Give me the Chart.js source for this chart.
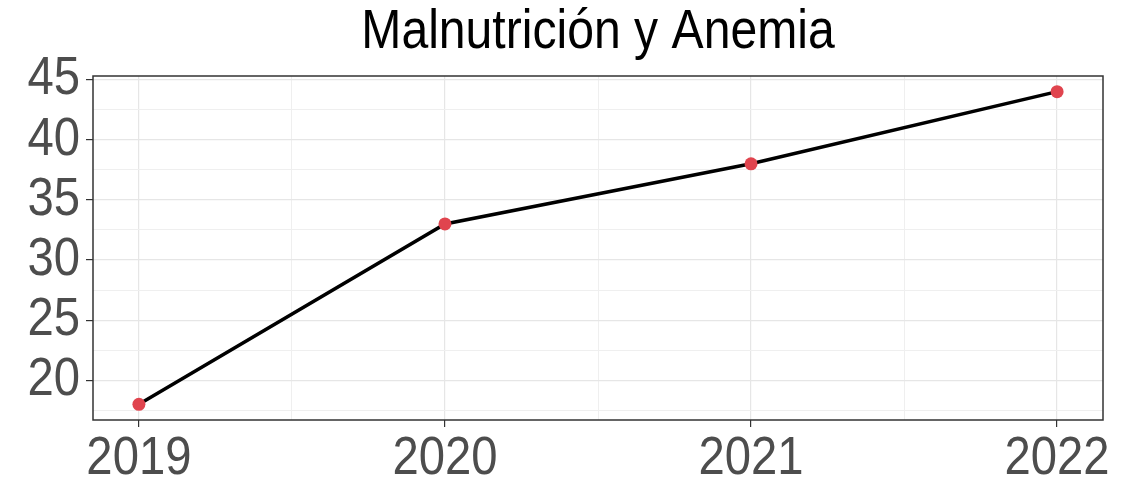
<!DOCTYPE html>
<html>
<head>
<meta charset="utf-8">
<script src="https://cdn.jsdelivr.net/npm/chart.js@4.4.1/dist/chart.umd.min.js"></script>
<style>
  html, body { margin: 0; padding: 0; background: #fff; }
  #wrap { width: 1140px; height: 482px; }
</style>
</head>
<body>
<div id="wrap"><canvas id="chartLine"></canvas></div>
<script>
"use strict";

var years = [2019, 2020, 2021, 2022];
var values = [18, 33, 38, 44];
var xGrid = [2019, 2019.5, 2020, 2020.5, 2021, 2021.5, 2022];
var yGrid = [17.5, 20, 22.5, 25, 27.5, 30, 32.5, 35, 37.5, 40, 42.5, 45];
var yLabels = [20, 25, 30, 35, 40, 45];

var font = "'Liberation Sans', Arial, sans-serif";

function isMajor(v, list) {
  return list.indexOf(v) !== -1;
}

// the reference text is a bit narrow, squeeze glyphs horizontally
var narrowText = {
  id: "narrowText",
  beforeDraw: function (chart) {
    var ctx = chart.ctx;
    var orig = ctx.fillText;
    chart._origFillText = orig;
    ctx.fillText = function (text, x, y, maxWidth) {
      this.save();
      this.translate(x, y);
      this.scale(0.875, 1);
      orig.call(this, text, 0, 0, maxWidth);
      this.restore();
    };
  },
  afterDraw: function (chart) {
    chart.ctx.fillText = chart._origFillText;
  },
};

// panel border on all four sides, like ggplot theme_bw
var panelBorder = {
  id: "panelBorder",
  afterDraw: function (chart) {
    var a = chart.chartArea;
    var ctx = chart.ctx;
    ctx.save();
    ctx.strokeStyle = "#333333";
    ctx.lineWidth = 1.5;
    ctx.strokeRect(a.left, a.top, a.right - a.left, a.bottom - a.top);
    ctx.restore();
  },
};

var ctx = document.getElementById("chartLine").getContext("2d");
var chart = new Chart(ctx, {
  type: "line",
  data: {
    datasets: [
      {
        label: "Malnutrición y Anemia",
        data: years.map(function (y, i) {
          return { x: y, y: values[i] };
        }),
        borderColor: "#000000",
        borderWidth: 3.5,
        pointBackgroundColor: "#E0444E",
        pointBorderColor: "#E0444E",
        pointRadius: 6.5,
        pointBorderWidth: 0,
        tension: 0,
      },
    ],
  },
  options: {
    responsive: true,
    maintainAspectRatio: false,
    animation: false,
    layout: { padding: { left: 0, right: 37, top: 0, bottom: 0 } },
    plugins: {
      legend: { display: false },
      tooltip: { enabled: false },
      title: {
        display: true,
        text: "Malnutrición y Anemia",
        color: "#000000",
        fullSize: false,
        font: { family: font, size: 55, weight: "normal", lineHeight: 1.2 },
        padding: { top: 0, bottom: 10 },
      },
    },
    scales: {
      x: {
        type: "linear",
        min: 2018.85,
        max: 2022.15,
        afterBuildTicks: function (s) {
          s.ticks = xGrid.map(function (v) {
            return { value: v };
          });
        },
        afterFit: function (s) {
          s.height = 62;
        },
        grid: {
          color: function (c) {
            return isMajor(c.tick.value, years) ? "#E6E6E6" : "#EFEFEF";
          },
          lineWidth: function (c) {
            return isMajor(c.tick.value, years) ? 1.2 : 1;
          },
          tickColor: function (c) {
            return isMajor(c.tick.value, years) ? "#333333" : "rgba(0,0,0,0)";
          },
          tickLength: 7,
          drawTicks: true,
        },
        border: { display: false },
        ticks: {
          autoSkip: false,
          maxRotation: 0,
          padding: 0,
          color: "#4D4D4D",
          font: { family: font, size: 54 },
          callback: function (v) {
            return isMajor(v, years) ? String(v) : "";
          },
        },
      },
      y: {
        type: "linear",
        min: 16.7,
        max: 45.3,
        afterBuildTicks: function (s) {
          s.ticks = yGrid.map(function (v) {
            return { value: v };
          });
        },
        afterFit: function (s) {
          s.width = 93;
        },
        grid: {
          color: function (c) {
            return isMajor(c.tick.value, yLabels) ? "#E6E6E6" : "#EFEFEF";
          },
          lineWidth: function (c) {
            return isMajor(c.tick.value, yLabels) ? 1.2 : 1;
          },
          tickColor: function (c) {
            return isMajor(c.tick.value, yLabels) ? "#333333" : "rgba(0,0,0,0)";
          },
          tickLength: 7,
        },
        border: { display: false },
        ticks: {
          autoSkip: false,
          padding: 6,
          color: "#4D4D4D",
          font: { family: font, size: 54 },
          callback: function (v) {
            return isMajor(v, yLabels) ? String(v) : "";
          },
        },
      },
    },
  },
  plugins: [narrowText, panelBorder],
});
</script>
</body>
</html>
